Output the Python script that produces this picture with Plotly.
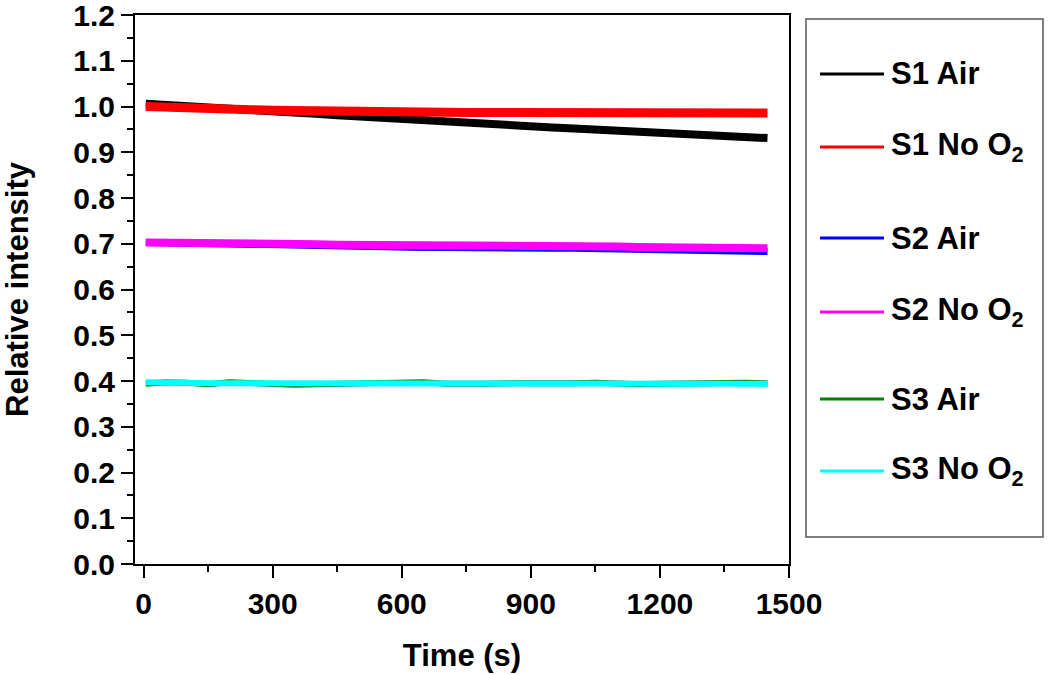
import plotly.graph_objects as go

# ---- data ----
time_s = [5, 50, 100, 150, 200, 250, 300, 350, 400, 450, 500, 550, 600, 650, 700,
          750, 800, 850, 900, 950, 1000, 1050, 1100, 1150, 1200, 1250, 1300, 1350, 1400, 1450]

s1_air = [1.006, 1.003, 1.000, 0.998, 0.995, 0.992, 0.989, 0.986, 0.984, 0.981,
          0.978, 0.975, 0.972, 0.968, 0.966, 0.964, 0.961, 0.958, 0.956, 0.954,
          0.952, 0.950, 0.947, 0.945, 0.943, 0.941, 0.939, 0.936, 0.934, 0.931]
s1_noo2 = [1.000, 0.998, 0.997, 0.995, 0.994, 0.993, 0.992, 0.991, 0.990, 0.990,
           0.989, 0.989, 0.988, 0.988, 0.987, 0.987, 0.987, 0.987, 0.986, 0.987,
           0.986, 0.986, 0.986, 0.986, 0.986, 0.985, 0.986, 0.986, 0.986, 0.986]
s2_air = [0.703, 0.702, 0.701, 0.700, 0.699, 0.698, 0.697, 0.696, 0.696, 0.695,
          0.694, 0.694, 0.693, 0.692, 0.692, 0.691, 0.691, 0.691, 0.690, 0.690,
          0.690, 0.689, 0.688, 0.687, 0.686, 0.685, 0.685, 0.684, 0.684, 0.683]
s2_noo2 = [0.703, 0.703, 0.702, 0.702, 0.701, 0.700, 0.700, 0.699, 0.699, 0.698,
           0.698, 0.698, 0.697, 0.697, 0.696, 0.696, 0.696, 0.695, 0.695, 0.695,
           0.694, 0.694, 0.694, 0.693, 0.693, 0.692, 0.692, 0.691, 0.691, 0.690]
s3_air = [0.394, 0.397, 0.396, 0.393, 0.397, 0.395, 0.392, 0.392, 0.393, 0.394,
          0.393, 0.394, 0.396, 0.397, 0.394, 0.393, 0.394, 0.395, 0.394, 0.393,
          0.395, 0.396, 0.394, 0.393, 0.394, 0.395, 0.394, 0.395, 0.396, 0.395]
s3_noo2 = [0.397, 0.398, 0.396, 0.395, 0.395, 0.394, 0.394, 0.394, 0.395, 0.394,
           0.395, 0.394, 0.395, 0.395, 0.394, 0.395, 0.394, 0.395, 0.395, 0.394,
           0.395, 0.394, 0.395, 0.394, 0.395, 0.394, 0.395, 0.394, 0.395, 0.394]

series_names = ["S1 Air", "S1 No O<sub>2</sub>", "S2 Air", "S2 No O<sub>2</sub>",
                "S3 Air", "S3 No O<sub>2</sub>"]
series_values = [s1_air, s1_noo2, s2_air, s2_noo2, s3_air, s3_noo2]
series_colors = ["#000000", "#FF0000", "#0000FF", "#FF00FF", "#008000", "#00FFFF"]
series_widths = [8, 9, 7, 8, 6, 6]

x_ticks = [0, 300, 600, 900, 1200, 1500]
y_ticks = [round(0.1 * i, 1) for i in range(13)]

FONT = "Arial, 'Liberation Sans', sans-serif"

fig = go.Figure()
for name, vals, col, w in zip(series_names, series_values, series_colors, series_widths):
    fig.add_trace(go.Scatter(x=time_s, y=vals, mode="lines", name=name,
                             line=dict(color=col, width=w), showlegend=False))

# plot-area geometry in pixels (for placing the hand-drawn legend)
L, R, T, B = 135, 789, 15, 564
W, H = R - L, B - T


def px(x):
    return (x - L) / W


def py(y):
    return (B - y) / H


shapes = [dict(type="rect", xref="paper", yref="paper",
               x0=px(806), x1=px(1043), y0=py(537), y1=py(19),
               line=dict(color="#555555", width=1.5), fillcolor="rgba(0,0,0,0)")]
annotations = []
legend_y = [74, 147, 238, 312, 399, 471]
for name, col, yy in zip(series_names, series_colors, legend_y):
    shapes.append(dict(type="line", xref="paper", yref="paper",
                       x0=px(820), x1=px(884), y0=py(yy), y1=py(yy),
                       line=dict(color=col, width=3)))
    annotations.append(dict(xref="paper", yref="paper", x=px(889), y=py(yy),
                            xanchor="left", yanchor="middle", showarrow=False,
                            text=name, font=dict(family=FONT, size=31, color="black", weight="bold")))

axis_common = dict(showgrid=False, zeroline=False, showline=True, linecolor="black",
                   linewidth=2, mirror=True, ticks="outside", ticklen=12, tickwidth=2,
                   tickcolor="black", automargin=False, ticklabeloverflow="allow",
                   tickfont=dict(family=FONT, size=30, color="black", weight="bold"))

fig.update_layout(
    width=1050, height=675,
    margin=dict(l=L, r=1050 - R, t=T, b=675 - B),
    paper_bgcolor="white", plot_bgcolor="white",
    xaxis=dict(range=[-20, 1500], tickvals=x_ticks, ticktext=[str(v) for v in x_ticks],
               minor=dict(dtick=150, ticklen=6, tickwidth=2, ticks="outside", tickcolor="black"),
               title=dict(text="Time (s)", standoff=25,
                          font=dict(family=FONT, size=31, color="black", weight="bold")),
               **axis_common),
    yaxis=dict(range=[0, 1.2], tickvals=y_ticks, ticktext=[f"{v:.1f}" for v in y_ticks],
               minor=dict(dtick=0.05, ticklen=6, tickwidth=2, ticks="outside", tickcolor="black"),
               title=dict(text="Relative intensity", standoff=49,
                          font=dict(family=FONT, size=31, color="black", weight="bold")),
               **axis_common),
    shapes=shapes, annotations=annotations,
)

fig.write_html("out.html", config={"displayModeBar": False},
               post_script="document.body.style.margin='0';document.body.style.overflow='hidden';")
